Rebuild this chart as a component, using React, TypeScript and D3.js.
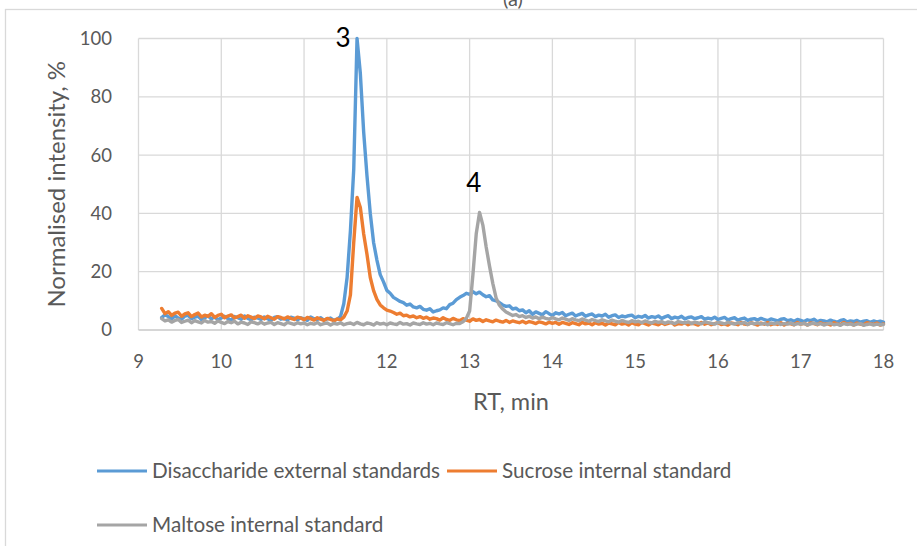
import React from "react";
import * as d3 from "d3";

// Sampling grid of the chromatograms (min)
const rtStart = 9.28;
const rtStep = 0.04;

// Normalised intensity, %, one value per sampling point (9.28 … 18.00 min)
const disaccharideExternal = [
  4.3, 5.2, 4.6, 3.8, 4.9, 4.1, 3.7, 4.8, 5.0, 3.9,
  4.4, 4.7, 3.6, 4.2, 4.9, 3.8, 4.5, 3.5, 4.1, 4.7,
  3.9, 3.4, 4.6, 4.2, 3.7, 4.8, 4.0, 3.5, 4.4, 4.1,
  3.6, 4.5, 3.9, 3.3, 4.3, 4.6, 3.7, 4.0, 3.4, 4.4,
  4.1, 3.5, 4.2, 3.8, 3.3, 4.5, 3.9, 3.6, 4.2, 3.4,
  3.8, 4.1, 3.3, 3.7,
  4.6, 9.0, 18.0, 34.0, 55.0, 100, 88, 68, 53, 40, 30, 24, 19, 16.5,
  13.6, 12.6,
  11.2, 10.5, 9.8, 9.4, 8.5, 8.9, 7.9, 7.6, 8.1, 7.1,
  6.8, 7.3, 6.2, 6.6, 6.9, 7.6, 7.3, 8.7, 9.2, 10.4,
  11.2, 11.8, 12.6, 12.2, 13.1, 12.4, 13.0, 12.1, 11.4, 11.8,
  10.3, 10.0, 9.4, 8.6, 8.1, 8.3, 7.2, 7.5, 6.6, 6.9,
  5.9, 6.6, 5.4, 6.2, 5.7, 5.2, 6.3, 5.6, 5.0, 5.9,
  5.5, 6.0, 4.9, 5.4, 5.8, 4.8, 5.3, 5.7, 4.7, 5.2,
  5.5, 4.6, 5.1, 4.8, 5.4, 4.4, 4.9, 5.2, 4.3, 4.8,
  4.5, 4.9, 5.1, 4.2, 4.7, 4.4, 5.0, 4.1, 4.6, 4.3,
  4.8, 4.0, 4.5, 4.9, 3.9, 4.4, 4.1, 4.7, 3.8, 4.3,
  4.5, 3.9, 4.2, 4.6, 3.7, 4.1, 3.8, 4.4, 3.6, 4.0,
  4.3, 3.5, 3.9, 4.2, 3.4, 3.8, 4.1, 3.3, 3.7, 3.9,
  3.4, 4.0, 3.6, 3.2, 3.8, 3.5, 3.1, 3.7, 3.9, 3.2,
  3.5, 3.0, 3.6, 3.3, 2.9, 3.5, 3.2, 3.7, 2.9, 3.3,
  3.1, 2.8, 3.4, 3.0, 2.7, 3.3, 3.5, 2.8, 3.1, 2.9,
  3.3, 2.7, 3.0, 3.2, 2.6, 3.1, 2.8, 3.0, 2.7,
];

const sucroseInternal = [
  7.4, 5.6, 6.3, 5.0, 5.8, 6.1, 4.7, 5.5, 5.9, 4.6,
  5.3, 5.8, 4.5, 5.1, 4.7, 5.6, 4.3, 5.0, 5.4, 4.2,
  4.8, 5.2, 4.1, 4.6, 5.1, 4.0, 4.9, 4.4, 3.9, 4.8,
  4.5, 3.8, 4.7, 4.2, 3.7, 4.6, 4.3, 3.8, 4.5, 4.0,
  3.6, 4.4, 4.1, 3.5, 4.3, 3.9, 3.4, 4.2, 3.7, 3.3,
  4.0, 3.6, 3.2, 3.8,
  3.5, 4.4, 6.5, 12.0, 30.0, 45.5,
  42, 33, 26, 18, 13.5, 10.5, 8.6, 7.6,
  6.8, 6.5,
  6.0, 5.4, 5.8, 4.9, 5.1, 4.5, 4.8, 4.2, 4.6, 4.0,
  4.4, 3.7, 4.1, 3.9, 3.4, 4.2, 3.6, 3.3, 4.0, 3.5,
  3.2, 3.9, 3.4, 3.0, 3.8, 3.3, 3.6, 2.9, 3.5, 3.1,
  2.8, 3.4, 3.0, 2.7, 3.3, 2.6, 3.1, 2.8, 2.5, 3.0,
  2.4, 2.9, 2.6, 2.2, 2.8, 2.5, 2.1, 2.7, 2.3, 2.6,
  2.0, 2.6, 2.3, 1.9, 2.5, 2.2, 1.8, 2.6, 2.1, 2.4,
  1.8, 2.5, 2.0, 2.3, 1.7, 2.4, 2.1, 1.8, 2.6, 2.0,
  2.3, 1.7, 2.5, 2.0, 1.8, 2.6, 2.2, 1.7, 2.4, 2.1,
  1.8, 2.5, 1.9, 2.3, 2.6, 1.7, 2.2, 2.0, 2.5, 1.8,
  2.3, 2.1, 1.7, 2.6, 2.0, 2.4, 1.8, 2.2, 2.5, 1.9,
  2.1, 1.7, 2.4, 2.2, 1.8, 2.6, 2.0, 1.9, 2.5, 2.1,
  1.7, 2.4, 2.0, 2.6, 1.8, 2.2, 1.9, 2.5, 1.7, 2.3,
  2.1, 1.8, 2.6, 2.0, 2.3, 1.7, 2.4, 2.2, 1.8, 2.5,
  1.9, 2.2, 1.7, 2.5, 2.1, 1.8, 2.6, 2.0, 2.3, 1.7,
  2.4, 2.0, 1.8, 2.5, 2.2, 1.9, 2.4, 1.7, 2.1,
];

const maltoseInternal = [
  3.9, 3.1, 3.5, 2.7, 3.3, 3.6, 2.6, 3.0, 3.4, 2.5,
  3.2, 2.8, 2.4, 3.3, 2.7, 2.9, 2.3, 3.1, 2.6, 2.2,
  2.9, 2.5, 3.0, 2.1, 2.7, 2.4, 1.9, 2.8, 2.5, 2.1,
  2.7, 2.0, 2.4, 2.6, 1.9, 2.5, 2.2, 1.8, 2.6, 2.3,
  1.9, 2.5, 2.1, 2.4, 1.8, 2.3, 2.0, 2.6, 1.8, 2.2,
  2.4, 1.7, 2.3, 2.0, 2.5, 1.8, 2.2, 2.4, 1.9, 2.6,
  2.1, 1.8, 2.4, 2.2, 1.7, 2.5, 2.0, 2.3, 1.8, 2.4,
  2.1, 1.9, 2.6, 2.0, 2.2, 1.7, 2.4, 2.1, 1.9, 2.5,
  2.0, 2.3, 1.8, 2.4, 2.1, 1.9, 2.5, 2.2, 1.8, 2.3,
  2.2, 2.8, 4.0, 6.5, 19.0, 33.0, 40.3, 36.0, 28.5, 22.0,
  16.0, 11.0, 8.5, 7.2, 6.2, 5.6,
  5.0, 5.3, 4.6, 4.9,
  4.3, 4.7, 4.1, 4.5, 3.9, 4.4, 4.0, 3.7, 4.3, 3.8,
  3.5, 4.1, 3.7, 3.3, 3.9, 3.5, 3.2, 3.8, 3.4, 3.0,
  3.6, 3.2, 2.9, 3.5, 3.1, 2.8, 3.4, 3.0, 2.7, 3.3,
  2.9, 2.6, 3.2, 2.8, 3.0, 2.5, 3.1, 2.7, 2.4, 3.0,
  2.6, 2.9, 2.3, 2.8, 2.5, 2.2, 2.9, 2.6, 2.4, 2.8,
  2.2, 2.7, 2.4, 2.1, 2.8, 2.5, 2.3, 2.0, 2.6, 2.4,
  2.1, 2.7, 2.3, 2.0, 2.5, 2.2, 2.6, 1.9, 2.4, 2.1,
  2.5, 2.0, 2.3, 1.8, 2.4, 2.1, 2.5, 1.9, 2.2, 2.0,
  2.4, 1.8, 2.2, 2.0, 2.3, 1.7, 2.1, 2.4, 1.9, 2.2,
  1.7, 2.1, 2.3, 1.8, 2.0, 1.6, 2.2, 1.9, 2.1, 1.7,
  2.0, 2.2, 1.6, 1.9, 2.1, 1.7, 2.0, 1.8, 1.9,
];

const seriesNames = [
  "Disaccharide external standards",
  "Sucrose internal standard",
  "Maltose internal standard",
];
const seriesColors = ["#5B9BD5", "#ED7D31", "#A5A5A5"];
const seriesValues = [disaccharideExternal, sucroseInternal, maltoseInternal];

const xTicks = [9, 10, 11, 12, 13, 14, 15, 16, 17, 18];
const yTicks = [0, 20, 40, 60, 80, 100];

// Peak numbers written beside the peaks (rt, intensity at the text baseline)
const peakLabels = ["3", "4"];
const peakLabelRt = [11.47, 13.05];
const peakLabelValue = [97.1, 47.3];

const W = 917;
const H = 546;
const FONT = "Lato, 'Open Sans', sans-serif";
const TEXT = "#595959";

export default function App() {
  const x = d3.scaleLinear().domain([9, 18]).range([138.5, 883.5]);
  const y = d3.scaleLinear().domain([0, 100]).range([330, 38.5]);

  const line = d3
    .line<number>()
    .x((_, i) => x(rtStart + i * rtStep))
    .y((v) => y(v));

  return (
    <svg
      width={W}
      height={H}
      style={{ position: "absolute", left: 0, top: 0, background: "#fff" }}
      fontFamily={FONT}
    >
      <rect x={0} y={0} width={W} height={H} fill="#fff" />
      {/* chart frame */}
      <rect
        x={5.5}
        y={9.5}
        width={1000}
        height={1000}
        fill="none"
        stroke="#d9d9d9"
        strokeWidth={1.3}
      />
      <text x={513} y={6} textAnchor="middle" fontSize={20} fill={TEXT}>
        (a)
      </text>

      {/* gridlines */}
      {yTicks.slice(1).map((t) => (
        <line
          key={"gy" + t}
          x1={x(9)}
          x2={x(18)}
          y1={y(t)}
          y2={y(t)}
          stroke="#d9d9d9"
          strokeWidth={1.3}
        />
      ))}
      {xTicks.map((t) => (
        <line
          key={"gx" + t}
          x1={x(t)}
          x2={x(t)}
          y1={y(100)}
          y2={y(0)}
          stroke="#d9d9d9"
          strokeWidth={1.3}
        />
      ))}
      <line
        x1={x(9)}
        x2={x(18)}
        y1={y(0)}
        y2={y(0)}
        stroke="#c9c9c9"
        strokeWidth={1.3}
      />

      {/* tick labels */}
      {yTicks.map((t) => (
        <text
          key={"ty" + t}
          x={112}
          y={y(t)}
          dy="0.35em"
          textAnchor="end"
          fontSize={18.5}
          fill={TEXT}
        >
          {t}
        </text>
      ))}
      {xTicks.map((t) => (
        <text
          key={"tx" + t}
          x={x(t)}
          y={362}
          dy="0.35em"
          textAnchor="middle"
          fontSize={18.5}
          fill={TEXT}
        >
          {t}
        </text>
      ))}

      {/* axis titles */}
      <text
        transform={`translate(57,${(y(0) + y(100)) / 2}) rotate(-90)`}
        textAnchor="middle"
        dy="0.35em"
        fontSize={24}
        fill={TEXT}
      >
        Normalised intensity, %
      </text>
      <text
        x={(x(9) + x(18)) / 2}
        y={402}
        dy="0.35em"
        textAnchor="middle"
        fontSize={23.5}
        fill={TEXT}
      >
        RT, min
      </text>

      {/* chromatograms */}
      {seriesValues.map((vals, k) => (
        <path
          key={seriesNames[k]}
          d={line(vals) || ""}
          fill="none"
          stroke={seriesColors[k]}
          strokeWidth={3.4}
          strokeLinejoin="round"
          strokeLinecap="round"
        />
      ))}

      {/* peak numbers */}
      {peakLabels.map((p, i) => (
        <text
          key={"p" + p}
          x={x(peakLabelRt[i])}
          y={y(peakLabelValue[i])}
          textAnchor="middle"
          fontSize={26}
          fill="#000"
        >
          {p}
        </text>
      ))}

      {/* legend */}
      {seriesNames.map((name, k) => {
        const lx = k === 1 ? 447 : 97;
        const ly = k === 2 ? 525 : 471;
        return (
          <g key={"lg" + k}>
            <line
              x1={lx}
              x2={lx + 50}
              y1={ly}
              y2={ly}
              stroke={seriesColors[k]}
              strokeWidth={3}
            />
            <text
              x={lx + 55}
              y={ly}
              dy="0.35em"
              fontSize={20.7}
              fill={TEXT}
            >
              {name}
            </text>
          </g>
        );
      })}
    </svg>
  );
}
